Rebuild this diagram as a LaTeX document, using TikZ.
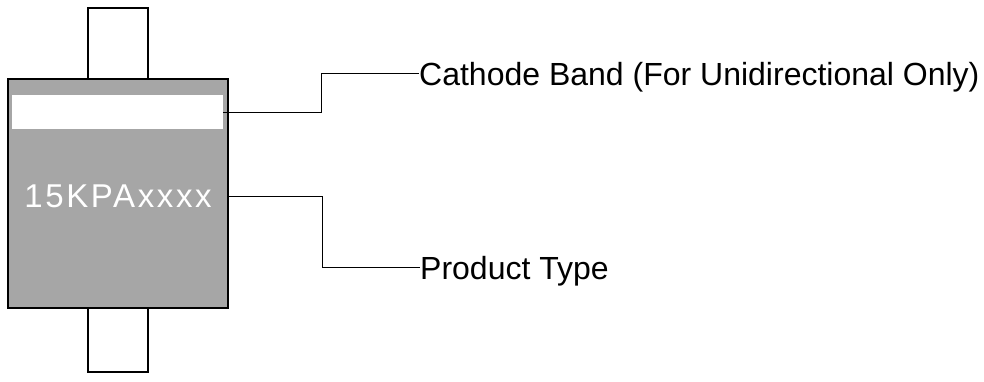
\documentclass[tikz,border=0pt]{standalone}
\usepackage{fontspec}
\setmainfont{Liberation Sans}
\definecolor{bodygray}{RGB}{166,166,166}
\tikzset{
  lead/.style={draw, line width=2pt, fill=white, inner sep=0pt, outer sep=0pt, minimum width=60pt},
  conn/.style={line width=1pt},
  lbl/.style={anchor=west, inner sep=0pt, text height=25pt, text depth=0pt, font=\fontsize{32}{38}\selectfont}
}
\begin{document}
\begin{tikzpicture}[x=1pt, y=-1pt, line join=miter]
			\useasboundingbox (0,0) rectangle (984,381);
			\node[lead, minimum height=71pt] (toplead) at (118,43.5) {};
			\node[lead, minimum height=64pt] (botlead) at (118,340) {};
			\node[draw, line width=2pt, fill=bodygray, inner sep=0pt, outer sep=0pt, minimum width=220pt, minimum height=229pt] (body) at (118,193.5) {};
			\node[fill=white, inner sep=0pt, minimum width=211pt, minimum height=34pt] (band) at (117.5,112) {};
			\node[anchor=base, inner sep=0pt, text=white, font=\fontsize{33}{40}\selectfont\addfontfeature{LetterSpace=8}] (marking) at (118,207) {15KPAxxxx};
			\node[lbl] (cathode) at (419,73) {Cathode Band (For Unidirectional Only)};
			\node[lbl] (ptype) at (420,267) {Product Type};
			\coordinate (ck) at (321,73);
			\coordinate (pk) at (322,196);
			\draw[conn] (band.east) -| (ck) -- (cathode.west);
			\draw[conn] (pk -| body.east) -- (pk) |- (ptype.west);
		\end{tikzpicture}
\end{document}
